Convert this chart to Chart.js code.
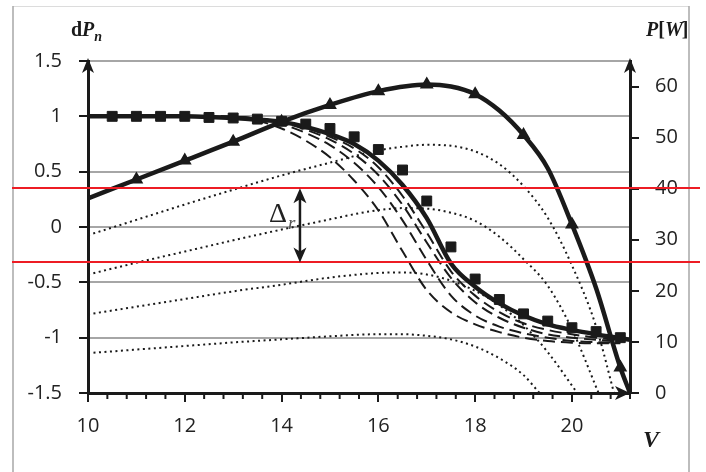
<!DOCTYPE html>
<html>
<head>
<meta charset="utf-8">
<script src="https://cdn.jsdelivr.net/npm/chart.js@4.4.1/dist/chart.umd.min.js"></script>
<style>
    html, body { margin: 0; padding: 0; background: #fff; }
    #wrap { width: 706px; height: 472px; }
</style>
</head>
<body>
<div id="wrap"><canvas id="pvChart" width="706" height="472"></canvas></div>
<script>
// Power at full irradiance (right axis, W)
const powerV = [10, 11, 12, 13, 14, 15, 16, 17, 17.5, 18, 18.5, 19, 19.5, 20, 20.5, 21, 21.2];
const powerW = [38.1, 41.8, 45.5, 49.2, 53.1, 56.4, 59.1, 60.4, 60.0, 58.5, 55.3, 50.5, 44, 33, 20.5, 5, 0];

// Power at lower irradiance (dotted, right axis)
const p80V = [10, 11, 12, 13, 14, 15, 16, 16.5, 17, 17.5, 18, 18.5, 19, 19.5, 20, 20.5, 20.87];
const p80W = [30.9, 33.9, 36.9, 39.8, 42.6, 45.1, 47.5, 48.2, 48.6, 48.4, 47.3, 44.8, 40.5, 34.3, 25, 13, 0];
const p60V = [10, 11, 12, 13, 14, 15, 15.5, 16, 16.5, 17, 17.5, 18, 18.5, 19, 19.5, 20, 20.55];
const p60W = [23.2, 25.5, 27.7, 29.9, 32, 34, 35, 35.8, 36.2, 36.1, 35.3, 33.7, 30.6, 26.2, 21, 12.5, 0];
const p40V = [10, 11, 12, 13, 14, 15, 16, 16.5, 17, 17.5, 18, 18.5, 19, 19.5, 20.11];
const p40W = [15.4, 16.9, 18.4, 19.9, 21.2, 22.6, 23.5, 23.6, 23.2, 22, 20, 17.2, 13.3, 8, 0];
const p20V = [10, 11, 12, 13, 14, 15, 16, 16.5, 17, 17.5, 18, 18.5, 19, 19.33];
const p20W = [7.8, 8.5, 9.2, 9.9, 10.5, 11.1, 11.5, 11.5, 11.2, 10.5, 9.1, 6.8, 3.5, 0];

// dPn, solid model curve (left axis)
const dpV = [10, 11, 12, 12.5, 13, 13.5, 14, 14.5, 15, 15.5, 16, 16.5, 17, 17.5, 18, 18.5, 19, 19.5, 20, 20.5, 21, 21.2];
const dpSolid = [1, 1, 1, 0.995, 0.985, 0.97, 0.95, 0.905, 0.84, 0.75, 0.6, 0.38, 0.08, -0.33, -0.54, -0.69, -0.8, -0.88, -0.93, -0.97, -1.005, -1.02];

// dPn, measured (squares)
const sqV = [10.5, 11, 11.5, 12, 12.5, 13, 13.5, 14, 14.5, 15, 15.5, 16, 16.5, 17, 17.5, 18, 18.5, 19, 19.5, 20, 20.5, 21];
const sqY = [1, 1, 1, 1, 0.99, 0.985, 0.975, 0.955, 0.93, 0.89, 0.815, 0.70, 0.515, 0.235, -0.18, -0.47, -0.655, -0.785, -0.85, -0.91, -0.945, -1.0];

// dPn at lower irradiance (dashed)
const dashV = [12, 13, 13.5, 14, 14.5, 15, 15.5, 16, 16.5, 17, 17.5, 18, 18.5, 19, 19.5, 20, 20.5, 21];
const dash1 = [1, 0.99, 0.96, 0.89, 0.78, 0.63, 0.42, 0.15, -0.22, -0.57, -0.77, -0.88, -0.95, -1.0, -1.03, -1.045, -1.05, -1.05];
const dash2 = [1, 0.995, 0.975, 0.93, 0.85, 0.74, 0.58, 0.36, 0.06, -0.3, -0.62, -0.8, -0.9, -0.96, -1.0, -1.03, -1.04, -1.045];
const dash3 = [1, 0.995, 0.98, 0.945, 0.88, 0.79, 0.66, 0.47, 0.2, -0.14, -0.46, -0.68, -0.82, -0.91, -0.97, -1.0, -1.02, -1.035];
const dash4 = [1, 0.995, 0.98, 0.95, 0.895, 0.815, 0.71, 0.54, 0.28, -0.05, -0.4, -0.62, -0.77, -0.87, -0.93, -0.97, -1.0, -1.025];

// band limits (left axis) and where the delta arrow sits
const bandLimits = [0.35, -0.32];
const deltaAtV = 14.38;

const INK = '#1a1a1a';
const TICK_FONT = { family: '"Open Sans", sans-serif', size: 20 };

function pts(xs, ys) {
    return xs.map((x, i) => ({ x: x, y: ys[i] }));
}

function arrowHead(ctx, x, y, dx, dy, len, half, notch) {
    const px = -dy, py = dx;
    ctx.beginPath();
    ctx.moveTo(x, y);
    ctx.lineTo(x - dx * len + px * half, y - dy * len + py * half);
    ctx.lineTo(x - dx * (len - notch), y - dy * (len - notch));
    ctx.lineTo(x - dx * len - px * half, y - dy * len - py * half);
    ctx.closePath();
    ctx.fill();
}

const decorPlugin = {
    id: 'decor',
    beforeDraw(chart) {
        const ctx = chart.ctx;
        ctx.save();
        ctx.fillStyle = '#fff';
        ctx.fillRect(0, 0, chart.width, chart.height);
        ctx.lineWidth = 1;
        ctx.strokeStyle = '#dcdcdc';
        ctx.beginPath();
        ctx.moveTo(13, 6.5); ctx.lineTo(689, 6.5);
        ctx.stroke();
        ctx.lineWidth = 1.5;
        ctx.strokeStyle = '#a8a8a8';
        ctx.beginPath();
        ctx.moveTo(13, 6); ctx.lineTo(13, 472);
        ctx.moveTo(689, 6); ctx.lineTo(689, 472);
        ctx.stroke();
        ctx.restore();
    },
    afterDraw(chart) {
        const ctx = chart.ctx;
        const x = chart.scales.x, y = chart.scales.y;
        const area = chart.chartArea;
        ctx.save();

        // minor ticks on V axis
        ctx.strokeStyle = INK;
        ctx.lineWidth = 2;
        x.ticks.forEach(t => {
            const v = Math.round(t.value * 10) / 10;
            if (Number.isInteger(v) && v % 2 === 0) return;
            const px = x.getPixelForValue(t.value);
            ctx.beginPath();
            ctx.moveTo(px, area.bottom);
            ctx.lineTo(px, area.bottom + 6);
            ctx.stroke();
        });

        // axis arrows
        ctx.fillStyle = INK;
        arrowHead(ctx, area.left, area.top - 3, 0, -1, 15, 6, 4);
        arrowHead(ctx, area.right, area.top - 3, 0, -1, 15, 6, 4);
        arrowHead(ctx, area.right, area.bottom, 1, 0, 15, 7, 4);

        // red band limits
        ctx.strokeStyle = '#ed1c24';
        ctx.lineWidth = 2;
        bandLimits.forEach(v => {
            const py = Math.round(y.getPixelForValue(v));
            ctx.beginPath();
            ctx.moveTo(12, py);
            ctx.lineTo(700, py);
            ctx.stroke();
        });

        // delta arrow
        const ax = x.getPixelForValue(deltaAtV);
        const yTop = y.getPixelForValue(bandLimits[0]);
        const yBot = y.getPixelForValue(bandLimits[1]);
        ctx.strokeStyle = INK;
        ctx.lineWidth = 2.5;
        ctx.beginPath();
        ctx.moveTo(ax, yTop + 8);
        ctx.lineTo(ax, yBot - 8);
        ctx.stroke();
        ctx.fillStyle = INK;
        arrowHead(ctx, ax, yTop, 0, -1, 15, 6.5, 4);
        arrowHead(ctx, ax, yBot, 0, 1, 15, 6.5, 4);

        ctx.fillStyle = '#222';
        ctx.textBaseline = 'alphabetic';
        ctx.textAlign = 'left';
        ctx.font = '28px "Liberation Serif", serif';
        ctx.fillText('\u0394', ax - 31, yTop + 34);
        ctx.fillStyle = '#555';
        ctx.font = 'italic 19px "Liberation Serif", serif';
        ctx.fillText('r', ax - 12, yTop + 41);

        // axis titles
        ctx.fillStyle = INK;
        ctx.font = 'bold 20px "Liberation Serif", serif';
        ctx.fillText('d', 71, 36);
        let w = ctx.measureText('d').width;
        ctx.font = 'bold italic 20px "Liberation Serif", serif';
        ctx.fillText('P', 71 + w, 36);
        w += ctx.measureText('P').width;
        ctx.font = 'bold italic 14px "Liberation Serif", serif';
        ctx.fillText('n', 71 + w, 41);

        ctx.font = 'bold italic 20px "Liberation Serif", serif';
        ctx.fillText('P', 646, 36);
        let w2 = ctx.measureText('P').width;
        ctx.font = 'bold 20px "Liberation Serif", serif';
        ctx.fillText('[', 646 + w2, 36);
        w2 += ctx.measureText('[').width;
        ctx.font = 'bold italic 20px "Liberation Serif", serif';
        ctx.fillText('W', 646 + w2, 36);
        w2 += ctx.measureText('W').width;
        ctx.font = 'bold 20px "Liberation Serif", serif';
        ctx.fillText(']', 646 + w2 - 1, 36);

        ctx.font = 'bold italic 24px "Liberation Serif", serif';
        ctx.fillText('V', 643, 447);

        ctx.restore();
    }
};

const lineBase = {
    showLine: true,
    pointRadius: 0,
    borderColor: INK,
    backgroundColor: INK,
    cubicInterpolationMode: 'monotone',
    fill: false
};

new Chart(document.getElementById('pvChart'), {
    type: 'scatter',
    data: {
        datasets: [
            Object.assign({}, lineBase, {
                label: 'dPn measured',
                data: pts(sqV, sqY),
                showLine: false,
                pointStyle: 'rect',
                pointRadius: 7,
                yAxisID: 'y',
                order: 0
            }),
            Object.assign({}, lineBase, {
                label: 'P',
                data: pts(powerV, powerW),
                borderWidth: 4.5,
                pointStyle: 'triangle',
                pointRadius: c => {
                    const v = c.raw ? c.raw.x : 0;
                    return Number.isInteger(v) && v >= 11 ? 3.5 : 0;
                },
                yAxisID: 'y2',
                order: 1
            }),
            Object.assign({}, lineBase, {
                label: 'dPn',
                data: pts(dpV, dpSolid),
                borderWidth: 4.5,
                yAxisID: 'y',
                order: 2
            }),
            ...[dash1, dash2, dash3, dash4].map((d, i) => Object.assign({}, lineBase, {
                label: 'dPn ' + (i + 1),
                data: pts(dashV, d),
                borderWidth: 2,
                borderDash: [12, 6],
                yAxisID: 'y',
                order: 3
            })),
            ...[[p80V, p80W], [p60V, p60W], [p40V, p40W], [p20V, p20W]].map((p, i) => Object.assign({}, lineBase, {
                label: 'P ' + (i + 1),
                data: pts(p[0], p[1]),
                borderWidth: 2,
                borderDash: [2, 3.5],
                yAxisID: 'y2',
                order: 4
            }))
        ]
    },
    options: {
        responsive: false,
        animation: false,
        layout: { padding: { top: 61, left: 0, right: 0, bottom: 0 } },
        plugins: {
            legend: { display: false },
            tooltip: { enabled: false }
        },
        scales: {
            x: {
                type: 'linear',
                min: 10,
                max: 21.2,
                border: { color: INK, width: 3 },
                grid: {
                    drawOnChartArea: false,
                    tickLength: 9,
                    lineWidth: 2,
                    tickColor: c => {
                        const v = Math.round(c.tick.value * 10) / 10;
                        return Number.isInteger(v) && v % 2 === 0 ? INK : 'rgba(0,0,0,0)';
                    }
                },
                ticks: {
                    stepSize: 0.4,
                    autoSkip: false,
                    maxRotation: 0,
                    padding: 12,
                    color: '#222',
                    font: TICK_FONT,
                    callback: v => {
                        const r = Math.round(v * 10) / 10;
                        return Number.isInteger(r) && r % 2 === 0 ? String(r) : '';
                    }
                },
                afterFit: s => { s.height = 79; }
            },
            y: {
                position: 'left',
                min: -1.5,
                max: 1.5,
                border: { color: INK, width: 3 },
                grid: {
                    color: '#a6a6a6',
                    lineWidth: 2,
                    tickColor: INK,
                    tickLength: 9
                },
                ticks: {
                    stepSize: 0.5,
                    padding: 17,
                    color: '#222',
                    font: TICK_FONT,
                    callback: v => String(Math.round(v * 10) / 10)
                },
                afterFit: s => { s.width = 88; }
            },
            y2: {
                position: 'right',
                min: 0,
                max: 65,
                border: { color: INK, width: 3 },
                grid: {
                    drawOnChartArea: false,
                    tickColor: INK,
                    tickLength: 9,
                    lineWidth: 2
                },
                ticks: {
                    stepSize: 10,
                    includeBounds: false,
                    padding: 16,
                    color: '#222',
                    font: TICK_FONT
                },
                afterFit: s => { s.width = 76; }
            }
        }
    },
    plugins: [decorPlugin]
});
</script>
</body>
</html>
